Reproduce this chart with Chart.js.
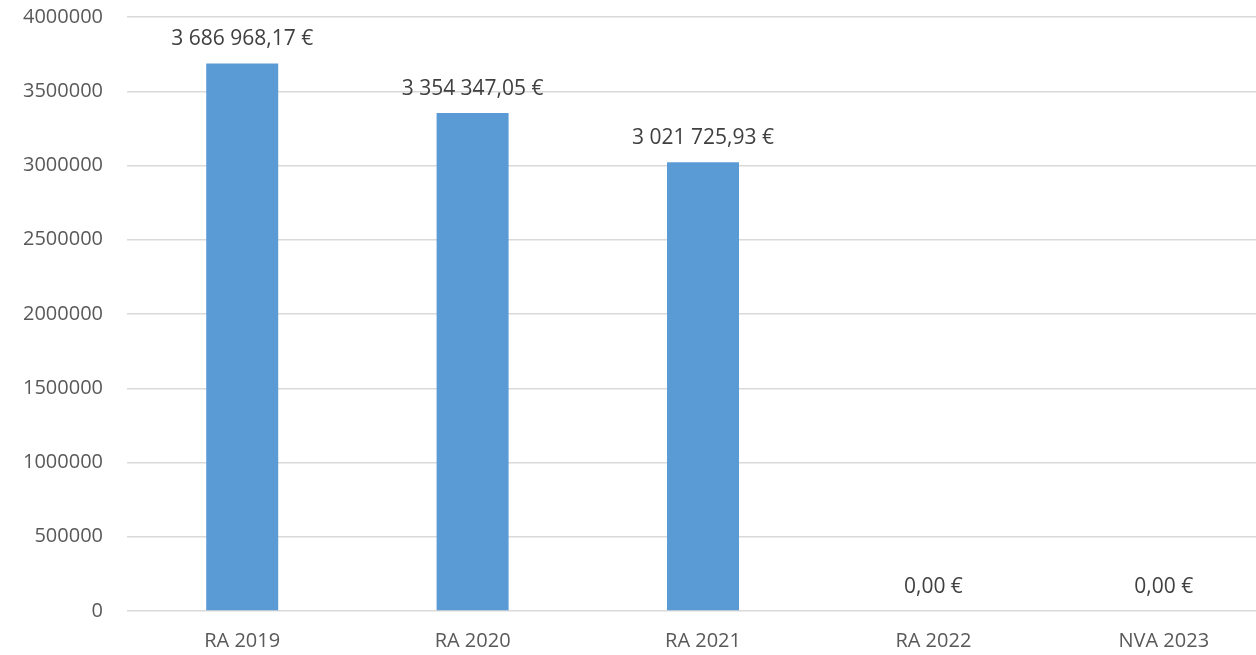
<!DOCTYPE html>
<html>
<head>
<meta charset="utf-8">
<script src="https://cdn.jsdelivr.net/npm/chart.js@4"></script>
<style>
  html, body { margin: 0; padding: 0; overflow: hidden; background: #fff; }
  #wrap { width: 1279px; height: 655px; }
</style>
</head>
<body>
<div id="wrap"><canvas id="grafico" width="1279" height="655"></canvas></div>
<script>
let categorias = ["RA 2019", "RA 2020", "RA 2021", "RA 2022", "NVA 2023"]
let valores = [3686968.17, 3354347.05, 3021725.93, 0, 0]
let ticksY = [0, 500000, 1000000, 1500000, 2000000, 2500000, 3000000, 3500000, 4000000]

// formato tipo "3 686 968,17 €"
let formatoEuro = (v) => {
    let partes = v.toFixed(2).split(".")
    let entero = partes[0].replace(/\B(?=(\d{3})+(?!\d))/g, " ")
    return entero + "," + partes[1] + " €"
}

let etiquetas = {
    id: "etiquetas",
    afterDatasetsDraw(chart) {
        let ctx = chart.ctx
        let meta = chart.getDatasetMeta(0)
        ctx.save()
        ctx.font = "21px 'Open Sans'"
        ctx.fillStyle = "#404040"
        ctx.textAlign = "center"
        ctx.textBaseline = "alphabetic"
        meta.data.forEach((bar, i) => {
            ctx.fillText(formatoEuro(valores[i]), bar.x, bar.y - 18)
        })
        ctx.restore()
    }
}

let fuente = { family: "Open Sans", size: 20 }

new Chart(document.getElementById("grafico"), {
    type: "bar",
    data: {
        labels: categorias,
        datasets: [{
            data: valores,
            backgroundColor: "#5B9BD5",
            barPercentage: 0.625,
            categoryPercentage: 0.5
        }]
    },
    options: {
        responsive: false,
        animation: false,
        devicePixelRatio: 1,
        layout: { padding: { top: 17, right: 0, left: 0, bottom: 0 } },
        plugins: { legend: { display: false }, tooltip: { enabled: false } },
        scales: {
            y: {
                min: 0,
                max: 4000000,
                afterBuildTicks: (scale) => { scale.ticks = ticksY.map(v => ({ value: v })) },
                afterFit: (scale) => {
                    scale.width = 127
                    scale.paddingTop = 0
                    scale.paddingBottom = 0
                },
                border: { display: false },
                grid: { color: "#d9d9d9", lineWidth: 1.5, drawTicks: false },
                ticks: { color: "#595959", font: fuente, padding: 24, callback: (v) => String(v) }
            },
            x: {
                afterFit: (scale) => {
                    scale.height = 44
                    scale.paddingLeft = 0
                    scale.paddingRight = 0
                },
                border: { display: false },
                grid: { display: false, drawTicks: false },
                ticks: { color: "#595959", font: fuente, padding: 18 }
            }
        }
    },
    plugins: [etiquetas]
})
</script>
</body>
</html>
